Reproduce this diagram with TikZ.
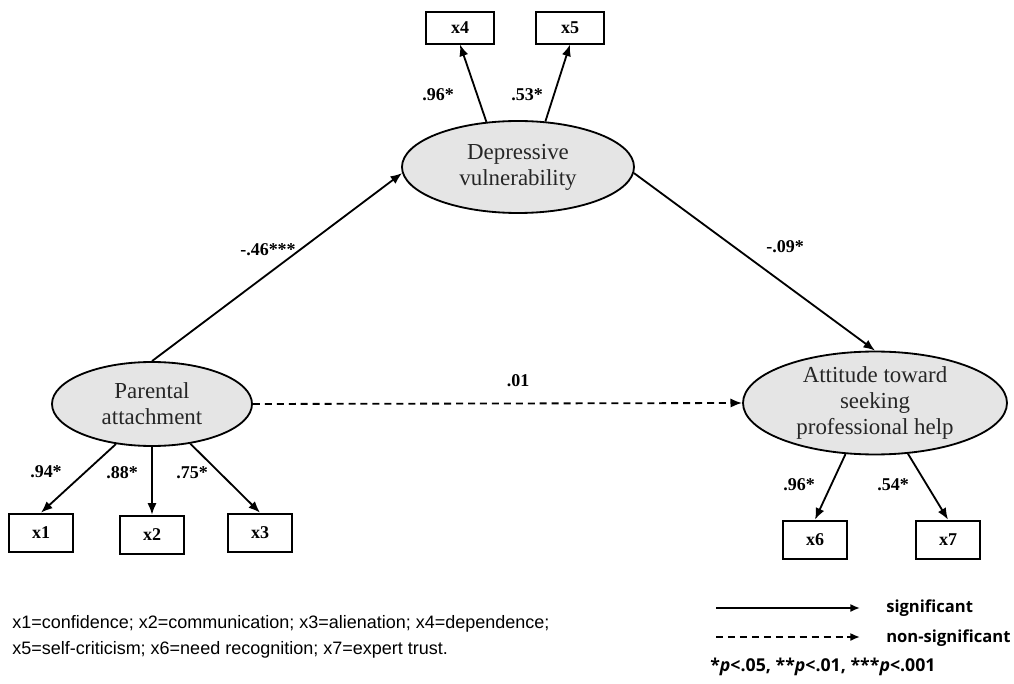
\documentclass[tikz,border=0pt]{standalone}
\usepackage{fontspec}
\setmainfont{Liberation Serif}
\newfontfamily\notefont{Liberation Sans}
\newfontfamily\legendfont{Open Sans}
\usetikzlibrary{shapes.geometric, arrows.meta}

\begin{document}
\begin{tikzpicture}[
		>={Latex[length=2.9mm, width=2.3mm]},
		latent/.style={ellipse, draw, line width=1.3pt, fill=black!10, inner sep=0pt, align=center, text=black!85, font=\fontsize{16.3}{18.5}\selectfont},
		indicator/.style={rectangle, draw, line width=1.3pt, minimum width=1.6cm, minimum height=0.9cm, font=\fontsize{12.8}{15}\selectfont\bfseries},
		coef/.style={font=\fontsize{12.8}{15}\selectfont\bfseries},
		path/.style={->, line width=1.3pt},
		nspath/.style={path, dash pattern=on 5pt off 3.5pt},
		legendtext/.style={anchor=west, inner sep=0pt, font=\legendfont\bfseries\fontsize{11.8}{15}\selectfont}
	]
  \useasboundingbox (0cm, 0cm) rectangle (25.35cm, -17.1cm);
  % latent variables
  \node (parent) [latent, minimum width=5cm, minimum height=2.1cm] at (3.8cm, -10.1cm) {Parental\\attachment};
  \node (depr) [latent, minimum width=5.8cm, minimum height=2.3cm] at (12.95cm, -4.175cm) {Depressive\\vulnerability};
  \node (att) [latent, minimum width=6.6cm, minimum height=2.55cm] at (21.875cm, -10.075cm) {Attitude toward\\seeking\\professional help};
  % observed variables
  \node (x1) [indicator, minimum height=0.97cm] at (1.025cm, -13.325cm) {x1};
  \node (x2) [indicator, minimum height=0.97cm] at (3.8cm, -13.375cm) {x2};
  \node (x3) [indicator, minimum height=0.97cm] at (6.5cm, -13.325cm) {x3};
  \node (x4) [indicator, minimum width=1.68cm, minimum height=0.78cm] at (11.5cm, -0.7cm) {x4};
  \node (x5) [indicator, minimum width=1.68cm, minimum height=0.78cm] at (14.25cm, -0.7cm) {x5};
  \node (x6) [indicator, minimum height=0.97cm] at (20.375cm, -13.5cm) {x6};
  \node (x7) [indicator, minimum height=0.97cm] at (23.7cm, -13.5cm) {x7};
  % structural paths
  \draw (parent.north) edge [path] (depr.183);
  \draw (depr.-3) edge [path] (att.north);
  \draw (parent.east) edge [nspath] (att.west);
  % loadings
  \draw (depr.125) edge [path] (x4.south);
  \draw (depr.59) edge [path] (x5.south);
  \draw (parent.228) edge [path] (x1.north);
  \draw (parent.south) edge [path] (x2.north);
  \draw (parent.314) edge [path] (x3.north);
  \draw (att.240) edge [path] (x6.north);
  \draw (att.303) edge [path] (x7.north);
  % coefficients
  \node (c_pd) [coef] at (6.7cm, -6.25cm) {-.46***};
  \node (c_da) [coef] at (19.625cm, -6.175cm) {-.09*};
  \node (c_pa) [coef] at (12.95cm, -9.525cm) {.01};
  \node (c_x4) [coef] at (10.95cm, -2.375cm) {.96*};
  \node (c_x5) [coef] at (13.175cm, -2.375cm) {.53*};
  \node (c_x1) [coef] at (1.15cm, -11.8cm) {.94*};
  \node (c_x2) [coef] at (3.05cm, -11.825cm) {.88*};
  \node (c_x3) [coef] at (4.8cm, -11.825cm) {.75*};
  \node (c_x6) [coef] at (19.975cm, -12.125cm) {.96*};
  \node (c_x7) [coef] at (22.325cm, -12.125cm) {.54*};
  % note
  \node (note) [anchor=west, align=left, inner sep=0pt, font=\notefont\fontsize{12.8}{18.5}\selectfont] at (0.3cm, -15.925cm) {x1=confidence; x2=communication; x3=alienation; x4=dependence;\\x5=self-criticism; x6=need recognition; x7=expert trust.};
  % legend
  \coordinate (sig_a) at (17.9cm, -15.2cm);
  \coordinate (sig_b) at (21.5cm, -15.2cm);
  \coordinate (ns_a) at (17.9cm, -15.925cm);
  \coordinate (ns_b) at (21.5cm, -15.925cm);
  \draw (sig_a) edge [path, >={Latex[length=2.4mm, width=2mm]}] (sig_b);
  \draw (ns_a) edge [nspath, >={Latex[length=2.4mm, width=2mm]}] (ns_b);
  \node (sig) [legendtext] at (22.15cm, -15.2cm) {significant};
  \node (ns) [legendtext] at (22.15cm, -15.95cm) {non-significant};
  \node (pval) [legendtext, font=\legendfont\bfseries\fontsize{12.6}{15}\selectfont] at (17.75cm, -16.675cm) {*\textit{p}<.05, **\textit{p}<.01, ***\textit{p}<.001};
\end{tikzpicture}
\end{document}
